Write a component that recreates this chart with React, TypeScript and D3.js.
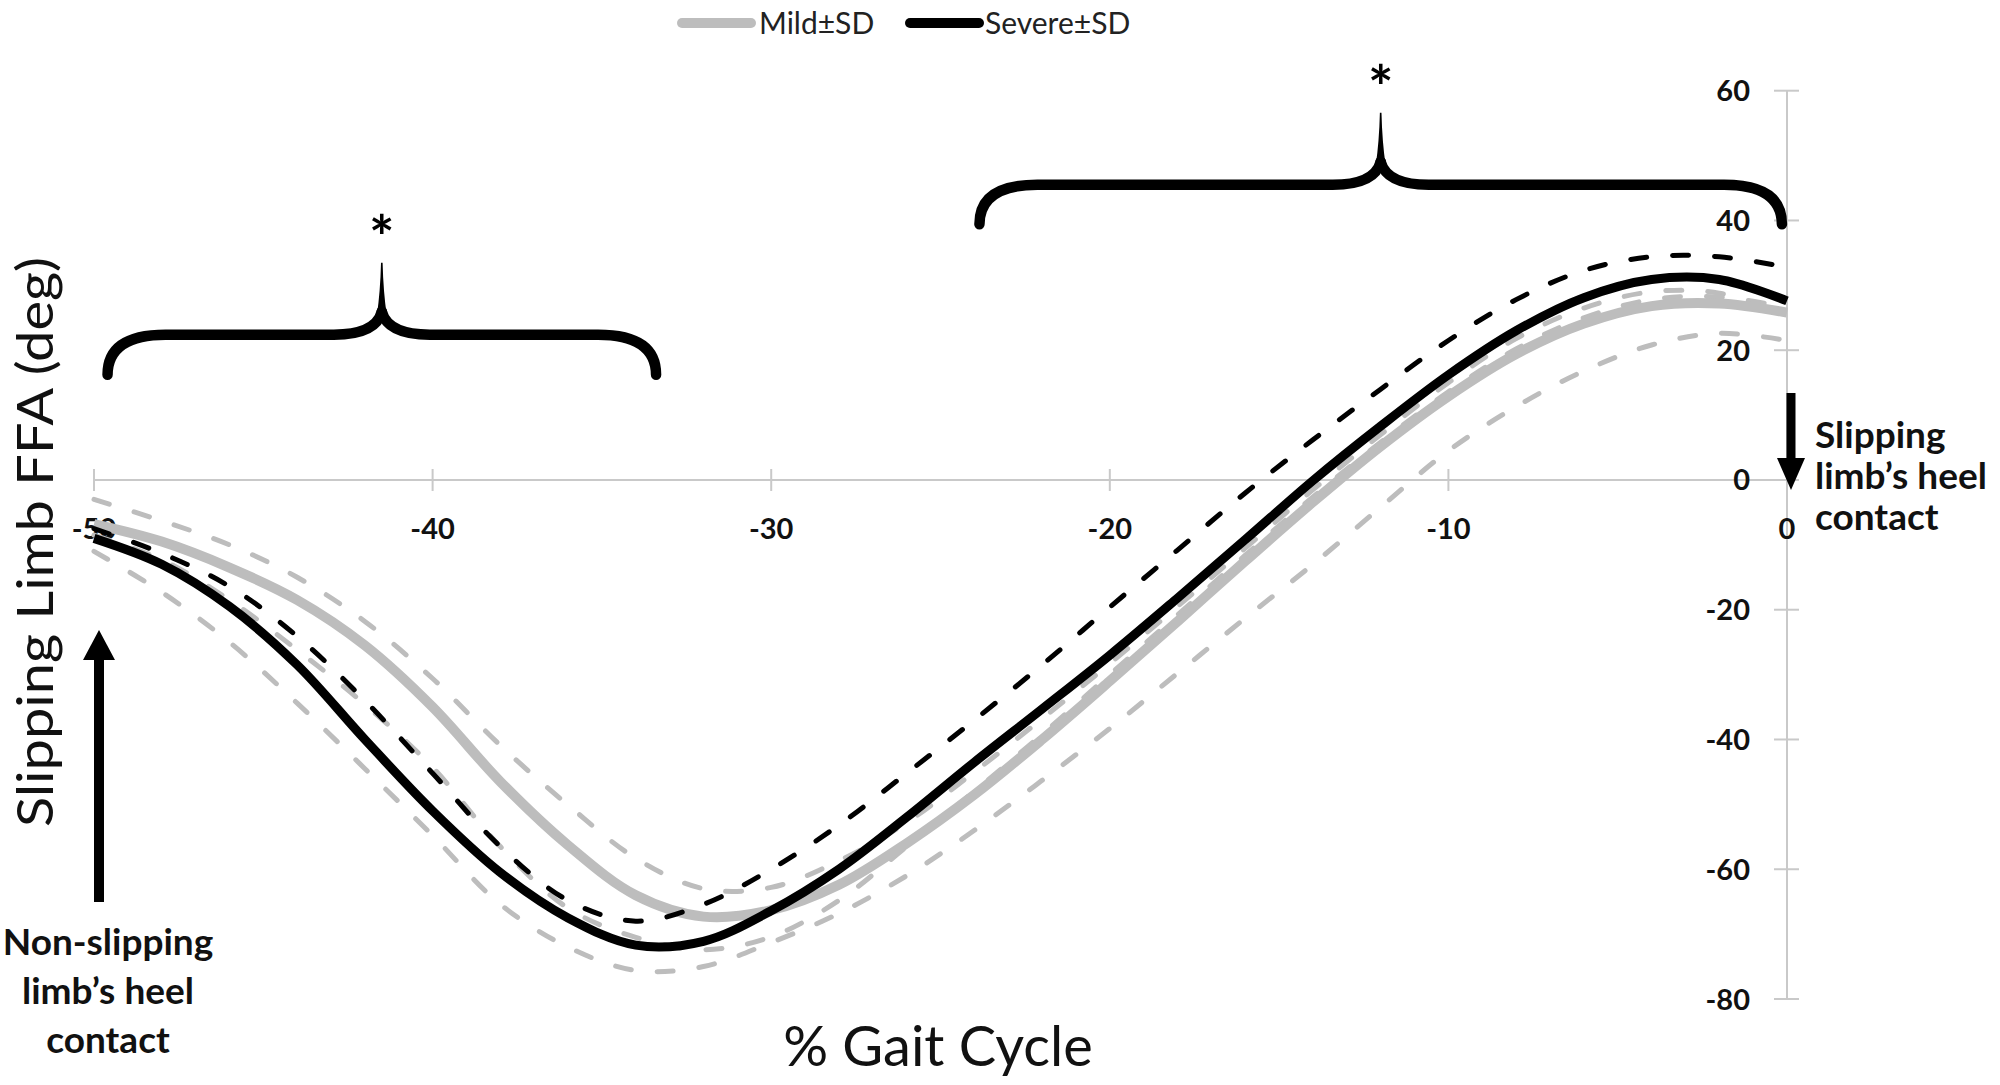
import React from "react";
import * as d3 from "d3";

// % gait cycle sample positions
const gaitPct = [-50, -48, -46, -44, -42, -40, -38, -36, -34, -32, -30, -28, -26, -24, -22, -20, -18, -16, -14, -12, -10, -8, -6, -4, -2, 0];

// Severe group mean (black solid)
const severeMean = [-9, -13, -19.5, -28.5, -40, -51, -60.5, -67.5, -71.7, -71.1, -66.4, -60, -52, -43.5, -35.3, -27, -18.2, -9.2, -0.1, 8.3, 16.2, 23.0, 28.1, 30.9, 30.9, 27.6];
// Severe +SD (black dashed)
const severeUpper = [-7.5, -11.3, -16.4, -24.1, -34, -45.2, -56.5, -64.8, -68, -65.4, -60, -53.2, -45.2, -37, -28.5, -19.6, -10.8, -2, 6.2, 14, 21.5, 27.8, 32.3, 34.4, 34.4, 32.8];
// Severe -SD (grey dashed, lowest)
const severeLower = [-11, -17.3, -25, -34.4, -44.5, -54.8, -65.4, -72, -75.6, -75, -71.3, -66.8, -61, -54, -46.3, -38.3, -29.8, -21.3, -13, -4.2, 4.5, 11.3, 16.8, 20.8, 22.6, 21.5];
// Mild group mean (grey solid)
const mildMean = [-6.8, -9.5, -13.5, -18.5, -25.5, -35, -46.5, -56.3, -64, -67.3, -66.3, -62.4, -56, -48.5, -40, -31, -21.8, -12.5, -3.4, 5.2, 12.9, 19.4, 24.1, 26.8, 27.2, 25.8];
// Mild +SD (grey dashed)
const mildUpper = [-3, -6.3, -10, -15, -21.8, -30.6, -40.9, -50.1, -58.3, -63, -62.8, -58.7, -52.8, -45, -36.8, -28.3, -19.5, -10.5, -1.5, 7, 15, 21.8, 26.5, 29, 28.8, 25.4];
// Mild -SD (grey dashed)
const mildLower = [-8.5, -12.3, -18.5, -26.2, -34.6, -44.3, -56.5, -66, -70.5, -72.4, -70.4, -64.8, -56.5, -48, -39.2, -30, -20.8, -11.6, -2.6, 5.8, 13.6, 20.2, 25, 27.8, 28.2, 26.6];

const xTicks = [-50, -40, -30, -20, -10, 0];
const yTicks = [-80, -60, -40, -20, 0, 20, 40, 60];

// significance brackets: [start %, end %], bracket foot / bar heights in degrees
const bracketStarts = [-49.6, -23.85];
const bracketEnds = [-33.4, -0.15];
const bracketFeet = [16.2, 39.4];
const bracketBars = [22.4, 45.5];

const legendLabels = ["Mild\u00B1SD", "Severe\u00B1SD"];
const yTitle = "Slipping Limb FFA (deg)";
const xTitle = "% Gait Cycle";
const leftNote = ["Non-slipping", "limb\u2019s heel", "contact"];
const rightNote = ["Slipping", "limb\u2019s heel", "contact"];

const W = 2000;
const H = 1085;

const GREY = "#bdbdbd";
const AXIS = "#c9c9c9";
const FONT = "Lato, 'Open Sans', sans-serif";

export default function App() {
  const x = d3.scaleLinear().domain([-50, 0]).range([94, 1787]);
  const y = d3.scaleLinear().domain([-80, 60]).range([999, 90.7]);

  const line = (vals: number[]) =>
    d3
      .line<number>()
      .x((_, i) => x(gaitPct[i]))
      .y((v) => y(v))
      .curve(d3.curveCatmullRom.alpha(0.5))(vals) as string;

  const brace = (i: number) => {
    const x0 = x(bracketStarts[i]);
    const x1 = x(bracketEnds[i]);
    const yf = y(bracketFeet[i]);
    const yb = y(bracketBars[i]);
    const xc = (x0 + x1) / 2;
    const cusp = yb - 23;
    const left = `M${x0},${yf} Q${x0},${yb} ${x0 + 58},${yb} L${xc - 48},${yb} Q${xc - 6},${yb} ${xc},${cusp}`;
    const right = `M${x1},${yf} Q${x1},${yb} ${x1 - 58},${yb} L${xc + 48},${yb} Q${xc + 6},${yb} ${xc},${cusp}`;
    const spike = `M${xc - 5},${cusp + 4} Q${xc - 1.5},${cusp - 20} ${xc - 0.8},${cusp - 49} L${xc + 0.8},${cusp - 49} Q${xc + 1.5},${cusp - 20} ${xc + 5},${cusp + 4} Z`;
    return (
      <g key={"brace" + i}>
        <path d={left} fill="none" stroke="#000" strokeWidth={10.5} strokeLinecap="round" />
        <path d={right} fill="none" stroke="#000" strokeWidth={10.5} strokeLinecap="round" />
        <path d={spike} fill="#000" />
        <text x={xc} y={cusp - 49 - 38 + 34} textAnchor="middle" fontFamily={FONT} fontSize={60} fontWeight={700} fill="#000">
          *
        </text>
      </g>
    );
  };

  const y0 = y(0);
  const axL = x(-50);
  const axR = x(0);

  // arrows (annotation positions anchored to axis ends)
  const la = axL + 5;
  const ra = axR + 4;

  return (
    <svg width={W} height={H} style={{ position: "absolute", left: 0, top: 0, background: "#fff" }}>
      <rect width={W} height={H} fill="#fff" />

      {/* axes */}
      <line x1={axL} x2={axR} y1={y0} y2={y0} stroke={AXIS} strokeWidth={2} />
      {xTicks.map((t) => (
        <line key={"xt" + t} x1={x(t)} x2={x(t)} y1={y0 - 11} y2={y0 + 11} stroke={AXIS} strokeWidth={2} />
      ))}
      <line x1={axR} x2={axR} y1={y(60)} y2={y(-80)} stroke={AXIS} strokeWidth={2} />
      {yTicks.map((t) => (
        <line key={"yt" + t} x1={axR - 13} x2={axR + 12} y1={y(t)} y2={y(t)} stroke={AXIS} strokeWidth={2} />
      ))}

      {/* tick labels */}
      {xTicks.map((t) => (
        <text key={"xl" + t} x={x(t)} y={y0 + 59} textAnchor="middle" fontFamily={FONT} fontSize={29} fontWeight={700} fill="#111">
          {t}
        </text>
      ))}
      {yTicks.map((t) => (
        <text key={"yl" + t} x={1750} y={y(t) + 10.5} textAnchor="end" fontFamily={FONT} fontSize={29} fontWeight={700} fill="#111">
          {t}
        </text>
      ))}

      {/* series */}
      {[mildUpper, mildLower, severeLower].map((s, i) => (
        <path key={"gd" + i} d={line(s)} fill="none" stroke={GREY} strokeWidth={5} strokeDasharray="16 26" strokeLinecap="round" />
      ))}
      <path d={line(mildMean)} fill="none" stroke={GREY} strokeWidth={10} />
      <path d={line(severeUpper)} fill="none" stroke="#000" strokeWidth={5} strokeDasharray="16 26" strokeLinecap="round" />
      <path d={line(severeMean)} fill="none" stroke="#000" strokeWidth={9} />

      {/* brackets */}
      {brace(0)}
      {brace(1)}

      {/* legend */}
      <line x1={682} x2={751} y1={23} y2={23} stroke={GREY} strokeWidth={10} strokeLinecap="round" />
      <text x={759} y={34} fontFamily={FONT} fontSize={30} fill="#222">{legendLabels[0]}</text>
      <line x1={910} x2={979} y1={23} y2={23} stroke="#000" strokeWidth={10} strokeLinecap="round" />
      <text x={985} y={34} fontFamily={FONT} fontSize={30} fill="#222">{legendLabels[1]}</text>

      {/* axis titles */}
      <text transform={`translate(53,542) rotate(-90)`} textAnchor="middle" fontFamily={FONT} fontSize={50} textLength={570} lengthAdjust="spacingAndGlyphs" fill="#111">
        {yTitle}
      </text>
      <text x={938} y={1066} textAnchor="middle" fontFamily={FONT} fontSize={56} fill="#111">
        {xTitle}
      </text>

      {/* left arrow + note */}
      <line x1={la} x2={la} y1={902} y2={655} stroke="#000" strokeWidth={10} />
      <path d={`M${la - 16},${660} L${la + 16},${660} L${la},${630} Z`} fill="#000" />
      {leftNote.map((t, i) => (
        <text key={"ln" + i} x={108} y={955 + i * 49} textAnchor="middle" fontFamily={FONT} fontSize={37} fontWeight={700} fill="#111">
          {t}
        </text>
      ))}

      {/* right arrow + note */}
      <line x1={ra} x2={ra} y1={393} y2={462} stroke="#000" strokeWidth={9} />
      <path d={`M${ra - 14},${458} L${ra + 14},${458} L${ra},${490} Z`} fill="#000" />
      {rightNote.map((t, i) => (
        <text key={"rn" + i} x={1815} y={448 + i * 41} fontFamily={FONT} fontSize={37} fontWeight={700} fill="#111">
          {t}
        </text>
      ))}
    </svg>
  );
}
